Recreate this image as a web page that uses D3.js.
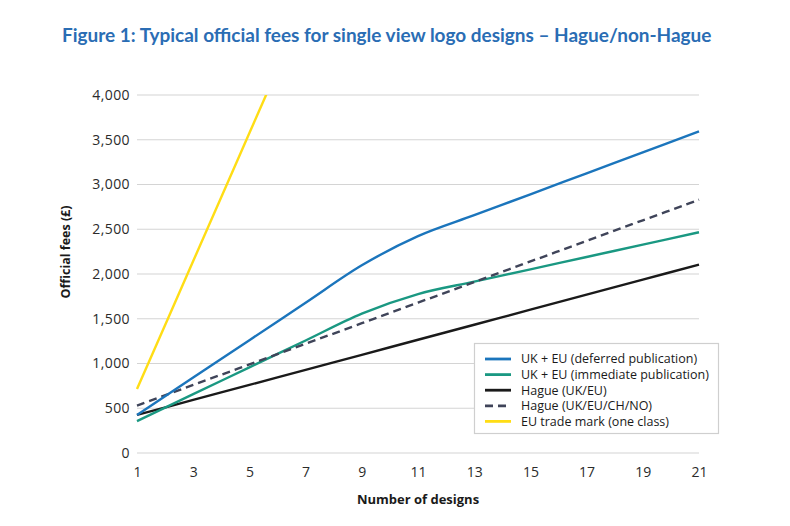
<!DOCTYPE html>
<html>
<head>
<meta charset="utf-8">
<script src="https://cdn.jsdelivr.net/npm/d3@7"></script>
<style>
  html, body { margin: 0; padding: 0; background: #ffffff; }
  svg { display: block; }
  text { font-family: "Open Sans", "DejaVu Sans", sans-serif; }
</style>
</head>
<body>
<svg id="chart" width="790" height="526"></svg>
<script>
// ---- Data ----
const designs = [1,3,5,7,9,11,13,15,17,19,21];
const ukEuDeferred  = [425,843,1261,1679,2097,2423,2657,2891,3125,3359,3593];
const ukEuImmediate = [357,657,957,1257,1557,1776,1914,2052,2190,2328,2466];
const hagueUkEu     = [425,593,761,929,1097,1265,1433,1601,1769,1937,2105];
const hagueUkEuChNo = [530,760,990,1220,1450,1680,1910,2140,2370,2600,2830];
const euTradeMarkDesigns = [1,3,5,7];
const euTradeMark   = [715,2145,3575,5005];

const xTicks = [1,3,5,7,9,11,13,15,17,19,21];
const yTicks = [0,500,1000,1500,2000,2500,3000,3500,4000];

const seriesNames = [
  "UK + EU (deferred publication)",
  "UK + EU (immediate publication)",
  "Hague (UK/EU)",
  "Hague (UK/EU/CH/NO)",
  "EU trade mark (one class)"
];

const titleText = "Figure 1: Typical official fees for single view logo designs – Hague/non-Hague";
const yTitle = "Official fees (£)";
const xTitle = "Number of designs";

// ---- Layout ----
const svg = d3.select("#chart");
const pLeft = 137, pRight = 699, pTop = 95, pBottom = 453;

const x = d3.scaleLinear().domain([1, 21]).range([pLeft, pRight]);
const y = d3.scaleLinear().domain([0, 4000]).range([pBottom, pTop]);

const colors = ["#1b75bc", "#1a9882", "#1a1a1a", "#3f4459", "#ffdd15"];
const dashes = [null, null, null, "8,5", null];

// Title
const title = svg.append("text")
  .attr("x", 62).attr("y", 42)
  .attr("fill", "#2a6db4")
  .attr("font-weight", 700)
  .attr("font-size", 17)
  .style("font-family", "Lato, 'Open Sans', sans-serif")
  .text(titleText);
{
  const w = title.node().getComputedTextLength();
  const target = 650;
  title.attr("font-size", 17 * target / w);
}

// Gridlines
svg.append("g").selectAll("line")
  .data(yTicks).join("line")
  .attr("x1", pLeft).attr("x2", pRight)
  .attr("y1", d => y(d)).attr("y2", d => y(d))
  .attr("stroke", "#d4d4d4").attr("stroke-width", 1.2);

// Y axis labels
const yAxis = d3.axisLeft(y).tickValues(yTicks).tickSize(0).tickPadding(7)
  .tickFormat(d3.format(","));
const gy = svg.append("g").attr("transform", `translate(${pLeft},0)`).call(yAxis);
gy.select(".domain").remove();
gy.selectAll("text").attr("font-size", 14).attr("fill", "#2b2b2b")
  .style("letter-spacing", "0.4px")
  .style("font-family", "'Open Sans', sans-serif");

// X axis labels
const xAxis = d3.axisBottom(x).tickValues(xTicks).tickSize(0).tickPadding(14)
  .tickFormat(d3.format("d"));
const gx = svg.append("g").attr("transform", `translate(0,${pBottom})`).call(xAxis);
gx.select(".domain").remove();
gx.selectAll("text").attr("font-size", 14).attr("fill", "#2b2b2b")
  .style("font-family", "'Open Sans', sans-serif");

// Axis titles
svg.append("text")
  .attr("transform", `translate(70,252) rotate(-90)`)
  .attr("text-anchor", "middle")
  .attr("font-size", 12.5).attr("font-weight", 700).attr("fill", "#1a1a1a")
  .text(yTitle);

svg.append("text")
  .attr("x", 418).attr("y", 504)
  .attr("text-anchor", "middle")
  .attr("font-size", 13).attr("font-weight", 700).attr("fill", "#1a1a1a")
  .text(xTitle);

// Clip
svg.append("clipPath").attr("id", "plotclip")
  .append("rect").attr("x", pLeft - 5).attr("y", pTop).attr("width", pRight - pLeft + 10).attr("height", pBottom - pTop + 5);

const line = d3.line()
  .x(d => x(d[0])).y(d => y(d[1]))
  .curve(d3.curveCatmullRom.alpha(0));

const series = [
  designs.map((d, i) => [d, ukEuDeferred[i]]),
  designs.map((d, i) => [d, ukEuImmediate[i]]),
  designs.map((d, i) => [d, hagueUkEu[i]]),
  designs.map((d, i) => [d, hagueUkEuChNo[i]]),
  euTradeMarkDesigns.map((d, i) => [d, euTradeMark[i]])
];

const plot = svg.append("g").attr("clip-path", "url(#plotclip)");
const drawOrder = [2, 4, 1, 3, 0];
drawOrder.forEach(i => {
  plot.append("path")
    .datum(series[i])
    .attr("fill", "none")
    .attr("stroke", colors[i])
    .attr("stroke-width", 2.4)
    .attr("stroke-dasharray", dashes[i])
    .attr("d", line);
});

// Legend
const lg = svg.append("g");
lg.append("rect")
  .attr("x", 474.5).attr("y", 343.5).attr("width", 244).attr("height", 90)
  .attr("fill", "#ffffff").attr("stroke", "#cfcfcf").attr("stroke-width", 1.2);
seriesNames.forEach((name, i) => {
  const yy = 359 + i * 15.6;
  lg.append("line")
    .attr("x1", 485).attr("x2", 511).attr("y1", yy).attr("y2", yy)
    .attr("stroke", colors[i]).attr("stroke-width", 2.8)
    .attr("stroke-dasharray", dashes[i]);
  lg.append("text")
    .attr("x", 521).attr("y", yy).attr("dy", "0.35em")
    .attr("font-size", 12.5).attr("fill", "#1a1a1a")
    .text(name);
});
</script>
</body>
</html>
